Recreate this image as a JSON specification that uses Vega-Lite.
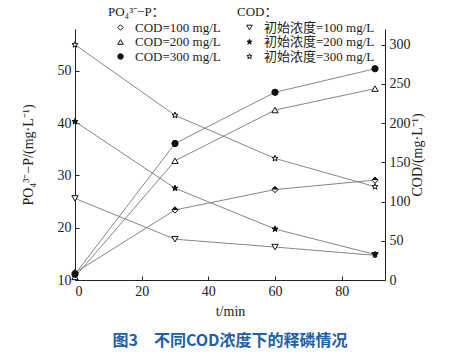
{
  "$schema": "https://vega.github.io/schema/vega-lite/v6.json",
  "width": 310,
  "height": 251,
  "autosize": {"type": "none"},
  "padding": {"left": 75, "top": 29, "right": 83, "bottom": 77},
  "background": "white",
  "datasets": {
    "po4": [
      {"t": 0, "v": 11.4, "s": "COD=100 mg/L"},
      {"t": 30, "v": 23.4, "s": "COD=100 mg/L"},
      {"t": 60, "v": 27.3, "s": "COD=100 mg/L"},
      {"t": 90, "v": 29.1, "s": "COD=100 mg/L"},
      {"t": 0, "v": 10.6, "s": "COD=200 mg/L"},
      {"t": 30, "v": 32.8, "s": "COD=200 mg/L"},
      {"t": 60, "v": 42.5, "s": "COD=200 mg/L"},
      {"t": 90, "v": 46.6, "s": "COD=200 mg/L"},
      {"t": 0, "v": 11.1, "s": "COD=300 mg/L"},
      {"t": 30, "v": 36.1, "s": "COD=300 mg/L"},
      {"t": 60, "v": 45.9, "s": "COD=300 mg/L"},
      {"t": 90, "v": 50.4, "s": "COD=300 mg/L"}
    ],
    "cod": [
      {"t": 0, "v": 104, "s": "初始浓度=100 mg/L"},
      {"t": 30, "v": 52, "s": "初始浓度=100 mg/L"},
      {"t": 60, "v": 42, "s": "初始浓度=100 mg/L"},
      {"t": 90, "v": 31.5, "s": "初始浓度=100 mg/L"},
      {"t": 0, "v": 202, "s": "初始浓度=200 mg/L"},
      {"t": 30, "v": 117, "s": "初始浓度=200 mg/L"},
      {"t": 60, "v": 65, "s": "初始浓度=200 mg/L"},
      {"t": 90, "v": 32.5, "s": "初始浓度=200 mg/L"},
      {"t": 0, "v": 300, "s": "初始浓度=300 mg/L"},
      {"t": 30, "v": 210, "s": "初始浓度=300 mg/L"},
      {"t": 60, "v": 155, "s": "初始浓度=300 mg/L"},
      {"t": 90, "v": 119, "s": "初始浓度=300 mg/L"}
    ]
  },
  "config": {
    "view": {"stroke": null},
    "font": "Liberation Serif",
    "axis": {
      "labelFont": "Liberation Serif",
      "titleFont": "'Liberation Serif', 'Noto Sans CJK SC'",
      "labelFontSize": 14,
      "titleFontSize": 14,
      "titleFontWeight": "normal",
      "labelColor": "#222",
      "titleColor": "#222",
      "domainColor": "#222",
      "tickColor": "#222",
      "grid": false,
      "tickSize": -4,
      "labelPadding": 8
    },
    "legend": {
      "labelFont": "'Liberation Serif', 'Noto Sans CJK SC'",
      "titleFont": "'Liberation Serif', 'Noto Sans CJK SC'",
      "labelFontSize": 13,
      "titleFontSize": 13,
      "titleFontWeight": "normal",
      "labelColor": "#222",
      "titleColor": "#222",
      "symbolStrokeColor": "#222",
      "symbolStrokeWidth": 1,
      "symbolSize": 30,
      "rowPadding": 0.5,
      "titlePadding": 2,
      "padding": 0
    }
  },
  "title": {
    "text": "图3　不同COD浓度下的释磷情况",
    "orient": "bottom",
    "anchor": "middle",
    "font": "Noto Sans CJK SC",
    "fontSize": 16,
    "fontWeight": "bold",
    "color": "#2060a8",
    "offset": 15
  },
  "layer": [
    {
      "data": {"name": "po4"},
      "encoding": {
        "x": {"field": "t", "type": "quantitative", "scale": {"domain": [0, 93], "nice": false},
              "axis": {"values": [0, 20, 40, 60, 80], "title": "t/min", "titlePadding": 6}},
        "y": {"field": "v", "type": "quantitative", "scale": {"domain": [10, 58], "nice": false, "zero": false},
              "axis": {"orient": "left", "values": [10, 20, 30, 40, 50], "title": "PO₄³⁻−P/(mg·L⁻¹)", "titlePadding": 22}}
      },
      "layer": [
        {"mark": {"type": "line", "color": "#777", "strokeWidth": 0.9},
         "encoding": {"detail": {"field": "s"}}},
        {"mark": {"type": "point", "filled": false, "strokeWidth": 1, "size": 40, "opacity": 1},
         "encoding": {
           "shape": {"field": "s", "type": "nominal",
                     "scale": {"domain": ["COD=100 mg/L", "COD=200 mg/L", "COD=300 mg/L"], "range": ["diamond", "triangle-up", "circle"]},
                     "legend": {"title": "PO₄³⁻−P：", "orient": "none", "legendX": 33, "legendY": -23, "symbolOffset": 6, "labelOffset": 8}},
           "fill": {"field": "s", "type": "nominal",
                    "scale": {"domain": ["COD=100 mg/L", "COD=200 mg/L", "COD=300 mg/L"], "range": ["white", "white", "#111"]},
                    "legend": {"title": "PO₄³⁻−P：", "orient": "none", "legendX": 33, "legendY": -23, "symbolOffset": 6, "labelOffset": 8}},
           "stroke": {"field": "s", "type": "nominal",
                    "scale": {"domain": ["COD=100 mg/L", "COD=200 mg/L", "COD=300 mg/L"], "range": ["#111", "#111", "#111"]},
                    "legend": {"title": "PO₄³⁻−P：", "orient": "none", "legendX": 33, "legendY": -23, "symbolOffset": 6, "labelOffset": 8}}
         }},
        {"transform": [{"filter": "datum.s == 'COD=100 mg/L'"}],
         "mark": {"type": "point", "shape": "M-1,0L0,-1L1,0Z", "filled": true, "color": "#111", "size": 40, "opacity": 1}}
      ]
    },
    {
      "data": {"name": "cod"},
      "encoding": {
        "x": {"field": "t", "type": "quantitative", "scale": {"domain": [0, 93], "nice": false},
              "axis": {"values": [0, 20, 40, 60, 80], "title": "t/min", "titlePadding": 6}},
        "y": {"field": "v", "type": "quantitative", "scale": {"domain": [0, 320], "nice": false},
              "axis": {"orient": "right", "values": [0, 50, 100, 150, 200, 250, 300], "title": "COD/(mg·L⁻¹)", "titleAngle": 270, "titlePadding": 14}}
      },
      "layer": [
        {"mark": {"type": "line", "color": "#777", "strokeWidth": 0.9},
         "encoding": {"detail": {"field": "s"}}},
        {"mark": {"type": "point", "filled": false, "strokeWidth": 1, "size": 40, "opacity": 1},
         "encoding": {
           "shape": {"field": "s", "type": "nominal",
                     "scale": {"domain": ["初始浓度=100 mg/L", "初始浓度=200 mg/L", "初始浓度=300 mg/L"],
                               "range": ["triangle-down", "M0,-1L0.235,-0.324L0.951,-0.309L0.38,0.124L0.588,0.809L0,0.4L-0.588,0.809L-0.38,0.124L-0.951,-0.309L-0.235,-0.324Z", "M0,-1L0.235,-0.324L0.951,-0.309L0.38,0.124L0.588,0.809L0,0.4L-0.588,0.809L-0.38,0.124L-0.951,-0.309L-0.235,-0.324Z"]},
                     "legend": {"title": "COD：", "orient": "none", "legendX": 162, "legendY": -23, "symbolOffset": 6, "labelOffset": 8}},
           "fill": {"field": "s", "type": "nominal",
                    "scale": {"domain": ["初始浓度=100 mg/L", "初始浓度=200 mg/L", "初始浓度=300 mg/L"], "range": ["white", "#111", "white"]},
                    "legend": {"title": "COD：", "orient": "none", "legendX": 162, "legendY": -23, "symbolOffset": 6, "labelOffset": 8}},
           "stroke": {"field": "s", "type": "nominal",
                    "scale": {"domain": ["初始浓度=100 mg/L", "初始浓度=200 mg/L", "初始浓度=300 mg/L"], "range": ["#111", "#111", "#111"]},
                    "legend": {"title": "COD：", "orient": "none", "legendX": 162, "legendY": -23, "symbolOffset": 6, "labelOffset": 8}}
         }}
      ]
    }
  ],
  "resolve": {"scale": {"y": "independent", "shape": "independent", "fill": "independent", "stroke": "independent"}}
}
